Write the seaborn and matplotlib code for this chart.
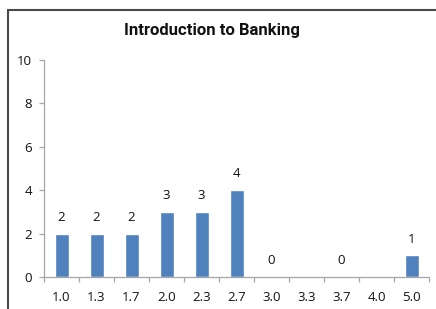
import matplotlib
matplotlib.use("Agg")
import matplotlib.pyplot as plt
from matplotlib.lines import Line2D
import numpy as np
import pandas as pd
import seaborn as sns

# data
grades = ["1.0", "1.3", "1.7", "2.0", "2.3", "2.7", "3.0", "3.3", "3.7", "4.0", "5.0"]
counts = [2, 2, 2, 3, 3, 4, 0, None, 0, None, 1]
title = "Introduction to Banking"

sns.set_style("white")
plt.rcParams["font.family"] = ["Open Sans", "DejaVu Sans"]

df = pd.DataFrame({"grade": grades, "count": counts})
df["height"] = df["count"].fillna(0)

fig = plt.figure(figsize=(4.36, 3.09), dpi=100)
ax = fig.add_axes([44 / 436, 1 - 277 / 309, (429 - 44) / 436, (277 - 60) / 309])

sns.barplot(data=df, x="grade", y="height", order=grades, color="#4F81BD",
            saturation=1, width=0.4, ax=ax)

# labels only where the sheet had a value
labels = ["" if pd.isna(c) else str(int(c)) for c in df["count"]]
ax.bar_label(ax.containers[0], labels=labels, padding=7, fontsize=9.5, color="#111111")

ax.set_xlim(-0.5, len(grades) - 0.5)
ax.set_ylim(0, 10)
ax.set_yticks([0, 2, 4, 6, 8, 10])
ax.set_xlabel("")
ax.set_ylabel("")

axis_col = "#A6A6A6"
for s in ["top", "right"]:
    ax.spines[s].set_visible(False)
for s in ["left", "bottom"]:
    ax.spines[s].set_color(axis_col)
    ax.spines[s].set_linewidth(0.9)

ax.set_xticks(np.arange(-0.5, len(grades), 1.0), minor=True)
ax.tick_params(axis="x", which="major", length=0, pad=10, labelsize=9.5, labelcolor="#111111")
ax.tick_params(axis="x", which="minor", length=3.5, width=0.9, color=axis_col,
               direction="out", bottom=True)
ax.tick_params(axis="y", length=3.5, width=0.9, color=axis_col, direction="out", pad=5,
               labelsize=9.5, labelcolor="#111111", left=True)

fig.text(212 / 436, 1 - 30 / 309, title, ha="center", va="center",
         fontsize=12, fontweight="bold", color="#111111", family=["Roboto", "DejaVu Sans"])

# chart frame, cropped at right and bottom
fig.add_artist(Line2D([8 / 436, 8 / 436], [0, 1 - 10 / 309], transform=fig.transFigure,
                      color="#4A4A4A", linewidth=1.5))
fig.add_artist(Line2D([8 / 436, 1], [1 - 10 / 309, 1 - 10 / 309], transform=fig.transFigure,
                      color="#4A4A4A", linewidth=1.5))

fig.savefig("out.png", dpi=100)
